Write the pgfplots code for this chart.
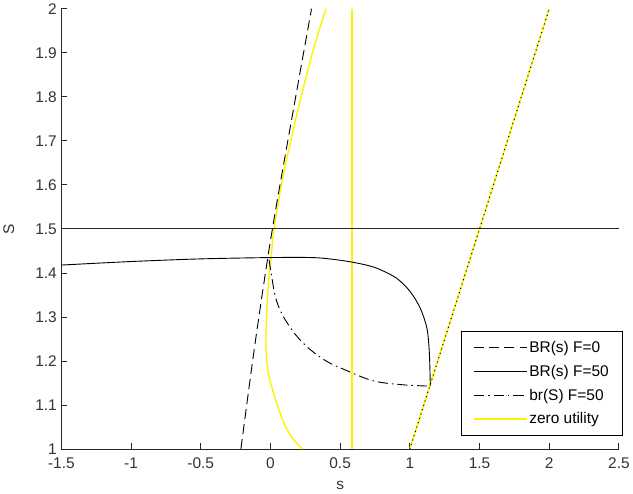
\documentclass[border=0pt]{standalone}
\usepackage{fontspec}
\setmainfont{Liberation Sans}
\usepackage{pgfplots}
\pgfplotsset{compat=1.18}

\newcommand{\labfont}{\fontsize{15.3}{18}\selectfont}

\begin{document}
\begin{tikzpicture}
  \begin{axis}[
      width=552pt, height=436pt, scale only axis,
      xmin=-1.5, xmax=2.5, ymin=1, ymax=2,
      axis lines*=left,
      axis line style={line width=0.9pt, black!85},
      tick align=inside,
      major tick length=6pt,
      tick style={line width=0.9pt, black!85},
      xtick={-1.5,-1,-0.5,0,0.5,1,1.5,2,2.5},
      xticklabels={-1.5,-1,-0.5,0,0.5,1,1.5,2,2.5},
      ytick={1,1.1,1.2,1.3,1.4,1.5,1.6,1.7,1.8,1.9,2},
      yticklabels={1,1.1,1.2,1.3,1.4,1.5,1.6,1.7,1.8,1.9,2},
      tick label style={font=\labfont, text=black!80},
      xticklabel style={yshift=-5pt},
      yticklabel style={xshift=-1pt},
      xlabel={s}, ylabel={S},
      every axis x label/.style={at={(rel axis cs:0.5,0)}, yshift=-36pt, anchor=center,
        font=\labfont, text=black!80},
      every axis y label/.style={at={(rel axis cs:0,0.5)}, xshift=-52pt, rotate=90, anchor=center,
        font=\labfont, text=black!80},
      legend style={font=\labfont, at={(1.008,0.03)}, anchor=south east,
        draw=black, line width=0.9pt, fill=white, row sep=7pt,
        inner xsep=12pt, inner ysep=8pt},
      legend cell align=left,
      legend image code/.code={\draw[#1] (0pt,0pt) -- (50pt,0pt); \path (0pt,0pt) -- (52pt,0pt);},
    ]
    % zero utility lines (drawn below the black ones)
    \addplot[yellow, line width=1.8pt, forget plot] coordinates {(0.583,1) (0.583,2)};
    \addplot[yellow, line width=1.5pt, forget plot] coordinates {(1,1) (2,2)};
    \addplot[yellow, line width=1.4pt, smooth, forget plot] coordinates {
      (0.399,2) (0.31,1.91) (0.234,1.818) (0.16,1.72) (0.085,1.61) (0.025,1.5)
      (0.007,1.443) (-0.016,1.37) (-0.028,1.30) (-0.032,1.245) (-0.026,1.2)
      (-0.01,1.165) (0.02,1.13) (0.06,1.09) (0.11,1.05) (0.17,1.02) (0.23,1.0)};
    % S = 1.5
    \addplot[black!85, line width=0.9pt, forget plot] coordinates {(-1.5,1.5) (2.5,1.5)};
    % black dots over the 45 degree line
    \addplot[black, line width=1pt, dash pattern=on 1pt off 3.5pt, forget plot] coordinates {(1,1) (2,2)};

    \addplot[black, line width=0.9pt, dash pattern=on 10pt off 5pt, smooth] coordinates {
      (-0.212,1) (-0.109,1.243) (0.014,1.5) (0.193,1.821) (0.295,2)};
    \addplot[black, line width=0.9pt, smooth] coordinates {
      (-1.5,1.418) (-1,1.426) (-0.5,1.432) (0,1.435) (0.3,1.435) (0.45,1.431)
      (0.58,1.425) (0.7,1.417) (0.785,1.408) (0.906,1.388) (1.002,1.358)
      (1.075,1.32) (1.123,1.274) (1.14,1.22) (1.147,1.144)};
    \addplot[black, line width=0.9pt, dash pattern=on 10pt off 4pt on 1.5pt off 4pt, smooth] coordinates {
      (-0.01,1.43) (0.01,1.39) (0.036,1.345) (0.085,1.305) (0.18,1.26)
      (0.278,1.228) (0.4,1.2) (0.52,1.182) (0.737,1.155) (0.954,1.146) (1.147,1.143)};
    \addlegendimage{yellow, line width=1.4pt}
    \legend{BR(s) F=0, BR(s) F=50, br(S) F=50, zero utility}
  \end{axis}
\end{tikzpicture}
\end{document}
